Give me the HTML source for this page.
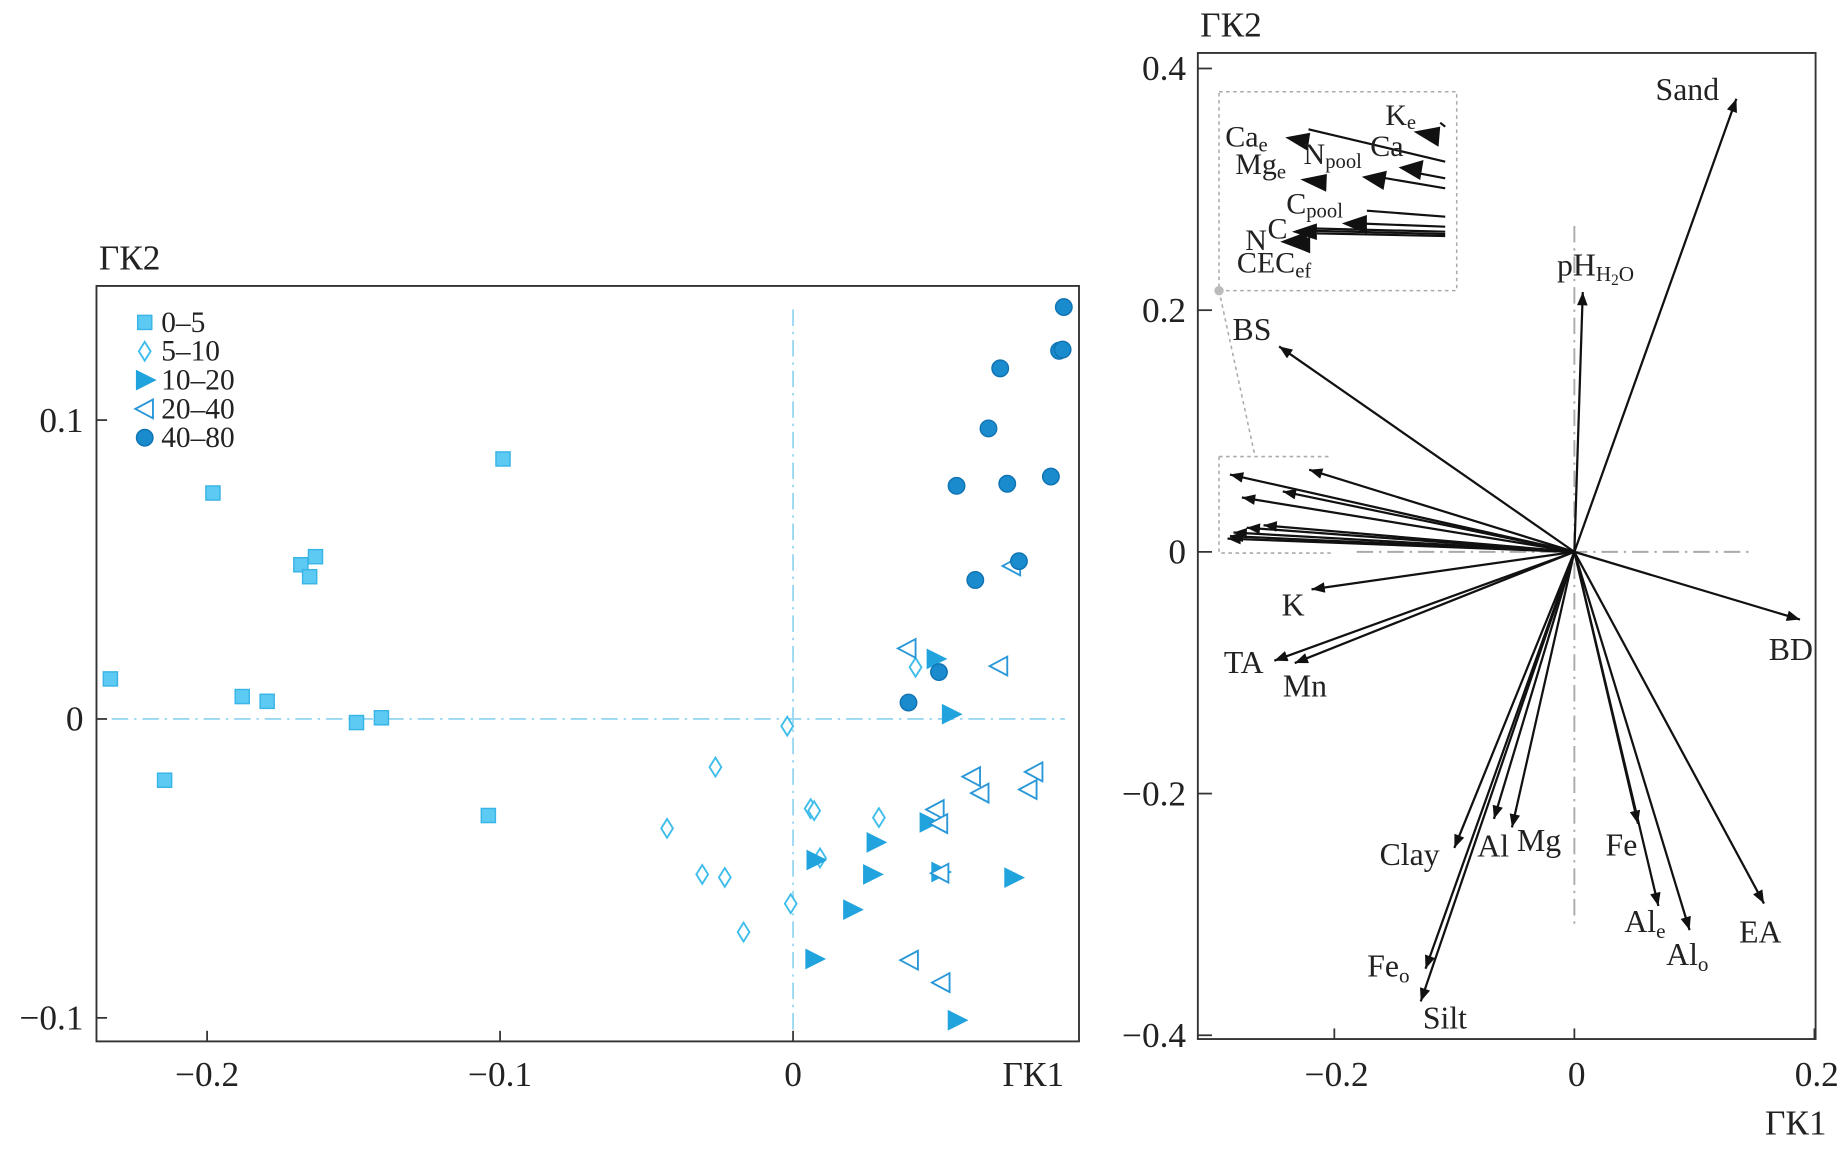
<!DOCTYPE html>
<html><head><meta charset="utf-8"><style>
html,body{margin:0;padding:0;background:#fff}
svg{display:block}
text{font-family:"Liberation Serif",serif;fill:#222}
</style></head><body>
<svg id="fig" width="1845" height="1152" viewBox="0 0 1568 979" preserveAspectRatio="none" xmlns="http://www.w3.org/2000/svg">
<defs>
<marker id="ah" viewBox="0 0 10 8" refX="10" refY="4" markerWidth="14" markerHeight="9" markerUnits="userSpaceOnUse" orient="auto"><path d="M0,0 L10,4 L0,8 Z" fill="#111"/></marker>
</defs>
<g id="left"></g>
<g id="right"></g>
</svg>
<script>
// ---------- Left chart data ----------
const groupNames = ["0–5","5–10","10–20","20–40","40–80"];
const sqX = [-0.233,-0.2145,-0.198,-0.188,-0.1795,-0.168,-0.165,-0.163,-0.149,-0.1405,-0.104,-0.099];
const sqY = [0.0134,-0.0205,0.0756,0.0075,0.0059,0.0516,0.0476,0.0543,-0.0012,0.0004,-0.0323,0.087];
const diX = [-0.002,-0.0265,-0.043,-0.031,-0.0233,-0.0169,-0.0008,0.006,0.0072,0.0092,0.0293,0.0418];
const diY = [-0.0024,-0.0161,-0.0366,-0.052,-0.053,-0.0713,-0.0618,-0.03,-0.0307,-0.0465,-0.033,0.0173];
const trX = [0.0486,0.0538,0.0076,0.0281,0.0269,0.0201,0.0072,0.0462,0.0502,0.0751,0.0558];
const trY = [0.0201,0.0016,-0.0472,-0.0413,-0.052,-0.0638,-0.0803,-0.0346,-0.0512,-0.0531,-0.1008];
const tlX = [0.039,0.0703,0.0747,0.0486,0.0498,0.0502,0.061,0.0639,0.0823,0.0803,0.0398,0.0506];
const tlY = [0.0236,0.0177,0.0512,-0.0303,-0.035,-0.0516,-0.0193,-0.0248,-0.0177,-0.0236,-0.0807,-0.0882];
const ciX = [0.0924,0.0908,0.092,0.0707,0.0667,0.088,0.0558,0.0731,0.0771,0.0622,0.0498,0.0394];
const ciY = [0.1378,0.1232,0.1236,0.1173,0.0972,0.0811,0.078,0.0787,0.0528,0.0465,0.0157,0.0055];
const leftXTicks = [-0.2,-0.1,0];
const leftXTickLabels = ["−0.2","−0.1","0"];
const leftYTicks = [0.1,0,-0.1];
const leftYTickLabels = ["0.1","0","−0.1"];

// ---------- Right chart data ----------
const vecNames = ["Sand","BD","EA","Alo","Ale","Fe","Mg","Al","Clay","Feo","Silt","pH","BS","K","TA","Mn"];
const vecX = [0.135,0.188,0.158,0.096,0.070,0.053,-0.052,-0.067,-0.100,-0.124,-0.128,0.007,-0.246,-0.219,-0.250,-0.233];
const vecY = [0.375,-0.056,-0.291,-0.313,-0.293,-0.225,-0.228,-0.221,-0.245,-0.345,-0.372,0.215,0.170,-0.031,-0.090,-0.092];
const clusterX = [-0.287,-0.221,-0.277,-0.243,-0.259,-0.287,-0.284,-0.273,-0.289];
const clusterY = [0.064,0.068,0.045,0.050,0.022,0.013,0.016,0.020,0.011];
const rightXTicks = [-0.2,0,0.2];
const rightXTickLabels = ["−0.2","0","0.2"];
const rightYTicks = [0.4,0.2,0,-0.2,-0.4];
const rightYTickLabels = ["0.4","0.2","0","−0.2","−0.4"];

const NS="http://www.w3.org/2000/svg";
function mk(parent,tag,attrs,txt){const e=document.createElementNS(NS,tag);for(const k in attrs)e.setAttribute(k,attrs[k]);if(txt!==undefined)e.textContent=txt;parent.appendChild(e);return e;}
const TF=30;

// ---------- Left chart ----------
const L=document.getElementById('left');
const lx=v=>674+v*2490;
const ly=v=>611-v*2540;
let fr=mk(L,'rect',{x:82,y:243,width:835,height:642,fill:'none',stroke:'#333','stroke-width':1.6});

let hz=mk(L,'line',{x1:95,y1:ly(0),x2:905,y2:ly(0),stroke:'#9ad8f2','stroke-width':1.6,'stroke-dasharray':'14 5 2 5'});

let vt=mk(L,'line',{x1:lx(0),y1:263,x2:lx(0),y2:880,stroke:'#9ad8f2','stroke-width':1.6,'stroke-dasharray':'14 5 2 5'});

leftXTicks.forEach((v,i)=>{
  mk(L,'line',{x1:lx(v),y1:885,x2:lx(v),y2:876,stroke:'#333','stroke-width':1.5});
  const t=mk(L,'text',{x:lx(v),y:923,'font-size':TF,'text-anchor':'middle'},leftXTickLabels[i]);
  
  
});
leftYTicks.forEach((v,i)=>{
  mk(L,'line',{x1:82,y1:ly(v),x2:91,y2:ly(v),stroke:'#333','stroke-width':1.5});
  const t=mk(L,'text',{x:71,y:ly(v)+10,'font-size':TF,'text-anchor':'end'},leftYTickLabels[i]);
  
  
});
let t1=mk(L,'text',{x:84,y:229,'font-size':TF},'ГК2');
let t2=mk(L,'text',{x:852,y:923,'font-size':TF},'ГК1');

function marker(g,type,cx,cy){
  if(type===0) return mk(g,'rect',{x:cx-6,y:cy-6,width:12,height:12,fill:'#5ccaf3',stroke:'#38b4e6','stroke-width':1.2});
  if(type===1) return mk(g,'path',{d:`M${cx},${cy-8} L${cx+5},${cy} L${cx},${cy+8} L${cx-5},${cy} Z`,fill:'#fff',stroke:'#3fbdeb','stroke-width':1.6});
  if(type===2) return mk(g,'path',{d:`M${cx-7},${cy-8} L${cx+9},${cy} L${cx-7},${cy+8} Z`,fill:'#21a3de',stroke:'#21a3de','stroke-width':1});
  if(type===3) return mk(g,'path',{d:`M${cx+7},${cy-8} L${cx-8},${cy} L${cx+7},${cy+8} Z`,fill:'#fff',stroke:'#2a98d8','stroke-width':1.6});
  return mk(g,'circle',{cx:cx,cy:cy,r:7,fill:'#1a8bcc',stroke:'#0f73b3','stroke-width':1.2});
}
const sets=[[sqX,sqY],[diX,diY],[trX,trY],[tlX,tlY],[ciX,ciY]];
const serNames=['series-0-5','series-5-10','series-10-20','series-20-40','series-40-80'];
sets.forEach((s,k)=>{
  const g=mk(L,'g',{});
  
  
  s[0].forEach((xv,i)=>{
    const m=marker(g,k,lx(xv),ly(s[1][i]));
    
    
  });
});
const lg=mk(L,'g',{});


groupNames.forEach((n,i)=>{
  const y=274+i*24.5;
  const m=marker(lg,i,123,y);
  
  
  const t=mk(lg,'text',{x:137,y:y+8,'font-size':25},n);
  
  
});

// ---------- Right chart ----------
const R=document.getElementById('right');
const ox=1338, oy=469;
const rx=v=>ox+v*1020;
const ry=v=>oy-v*1027;
let fr2=mk(R,'rect',{x:1018,y:45,width:525,height:838,fill:'none',stroke:'#333','stroke-width':1.6});

mk(R,'line',{x1:1153,y1:oy,x2:1490,y2:oy,stroke:'#aaa','stroke-width':1.6,'stroke-dasharray':'14 5 2 5'});
mk(R,'line',{x1:ox,y1:192,x2:ox,y2:785,stroke:'#aaa','stroke-width':1.6,'stroke-dasharray':'14 5 2 5'});
rightXTicks.forEach((v,i)=>{
  mk(R,'line',{x1:rx(v),y1:883,x2:rx(v),y2:874,stroke:'#333','stroke-width':1.5});
  const t=mk(R,'text',{x:rx(v)+2,y:923,'font-size':TF,'text-anchor':'middle'},rightXTickLabels[i]);
  
  
});
rightYTicks.forEach((v,i)=>{
  mk(R,'line',{x1:1018,y1:ry(v),x2:1030,y2:ry(v),stroke:'#333','stroke-width':1.5});
  const t=mk(R,'text',{x:1008,y:ry(v)+10,'font-size':TF,'text-anchor':'end'},rightYTickLabels[i]);
  
  
});
let t3=mk(R,'text',{x:1020,y:31,'font-size':TF},'ГК2');
let t4=mk(R,'text',{x:1500,y:964,'font-size':TF},'ГК1');

// inset boxes
mk(R,'rect',{x:1036,y:78,width:202,height:169,fill:'none',stroke:'#aaa','stroke-width':1.3,'stroke-dasharray':'3 3'});
mk(R,'path',{d:'M1036,388 L1036,470 L1132,470 M1036,388 L1132,388',fill:'none',stroke:'#aaa','stroke-width':1.3,'stroke-dasharray':'3 3'});
mk(R,'line',{x1:1036,y1:247,x2:1066,y2:385,stroke:'#aaa','stroke-width':1.3,'stroke-dasharray':'3 3'});
mk(R,'circle',{cx:1036,cy:247,r:4,fill:'#bbb'});

const vg=mk(R,'g',{});


vecNames.forEach((n,i)=>{
  const a=mk(vg,'line',{x1:ox,y1:oy,x2:rx(vecX[i]),y2:ry(vecY[i]),stroke:'#111','stroke-width':1.9,'marker-end':'url(#ah)'});
  
  
});
clusterX.forEach((xv,i)=>{
  const a=mk(vg,'line',{x1:ox,y1:oy,x2:rx(xv),y2:ry(clusterY[i]),stroke:'#111','stroke-width':1.9,'marker-end':'url(#ah)'});
  
  
});

// labels
const lab=[["Sand",1434,85],["BD",1522,561],["EA",1496,801],["Al<tspan font-size='18' dy='5'>o</tspan>",1434,820],["Al<tspan font-size='18' dy='5'>e</tspan>",1398,792],["Fe",1378,727],["Mg",1308,723],["Al",1269,728],["Clay",1198,735],["Fe<tspan font-size='18' dy='5'>o</tspan>",1180,830],["Silt",1228,874],["pH<tspan font-size='18' dy='5'>H</tspan><tspan font-size='13' dy='3'>2</tspan><tspan font-size='18' dy='-3'>O</tspan>",1356,234],["BS",1064,289],["K",1099,523],["TA",1057,572],["Mn",1109,592]];
const lbg=mk(R,'g',{});


lab.forEach(l=>{
  const t=mk(lbg,'text',{x:l[1],y:l[2],'font-size':27,'text-anchor':'middle'});
  t.innerHTML=l[0];
  
  
});

// inset (zoomed cluster) drawn in zoom-local coords
const ins=mk(R,'g',{transform:'translate(1028.5,68) scale(0.2833)'});


const sw=6.5;
[[705,245,295,148],[705,295,600,275],[705,325,500,290],[705,410,470,392],[705,440,440,430],[705,455,300,445],[705,462,300,452],[705,468,320,460],[690,128,705,140]].forEach(p=>mk(ins,'line',{x1:p[0],y1:p[1],x2:p[2],y2:p[3],stroke:'#111','stroke-width':sw}));
[[225,172,300,158,292,212],[610,155,690,140,685,200],[565,262,640,240,630,300],[455,290,530,272,520,330],[270,298,350,282,348,335],[395,430,470,405,470,462],[245,455,320,430,320,480],[210,485,290,455,290,515],[230,490,300,470,300,520]].forEach(p=>mk(ins,'path',{d:`M${p[0]},${p[1]} L${p[2]},${p[3]} L${p[4]},${p[5]} Z`,fill:'#111'}));
const insLab=[["K<tspan font-size='62' dy='12'>e</tspan>",525,135],["Ca<tspan font-size='62' dy='14'>e</tspan>",45,200],["N<tspan font-size='62' dy='12'>pool</tspan>",280,252],["Ca",480,228],["Mg<tspan font-size='62' dy='14'>e</tspan>",75,282],["C<tspan font-size='62' dy='12'>pool</tspan>",228,400],["C",172,475],["N",105,510],["CEC<tspan font-size='62' dy='14'>ef</tspan>",80,578]];
insLab.forEach(l=>{
  const t=mk(ins,'text',{x:l[1],y:l[2],'font-size':90});
  t.innerHTML=l[0];
  
  
});
</script>
</body></html>
